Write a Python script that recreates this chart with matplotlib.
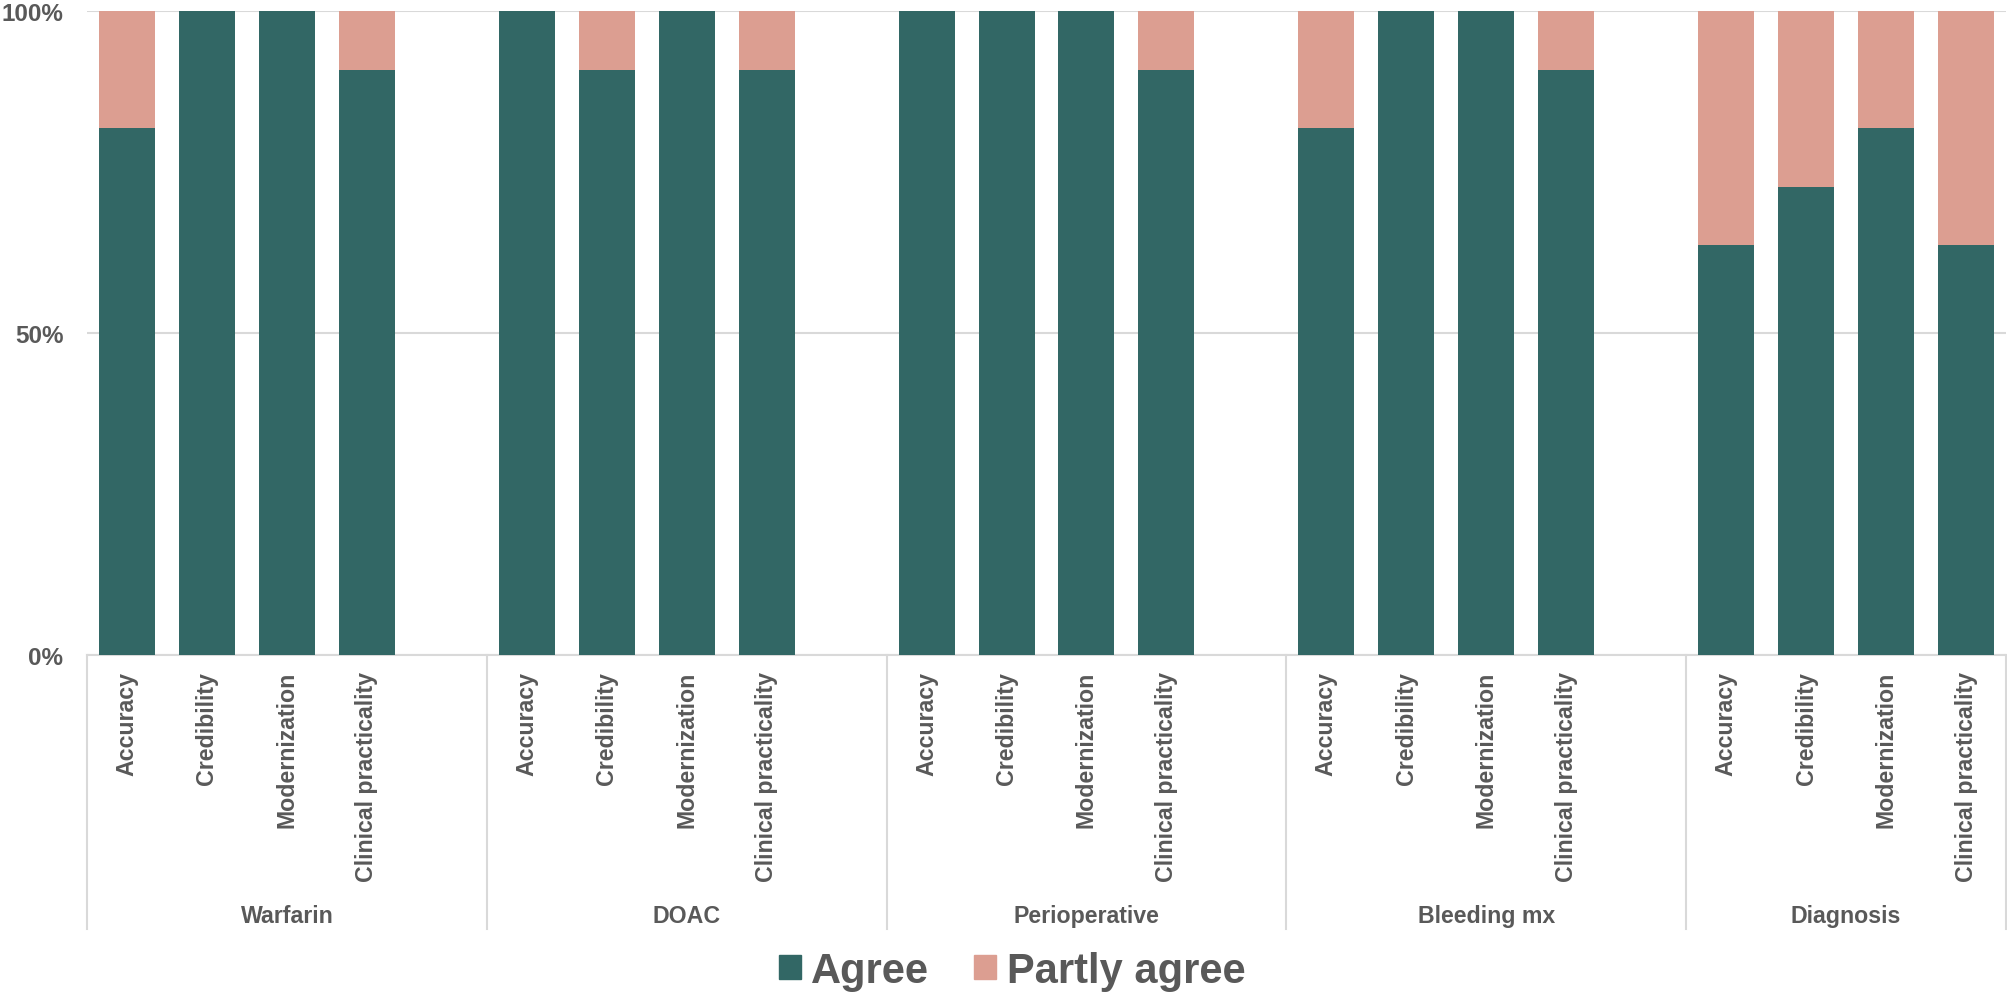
import matplotlib.pyplot as plt
import matplotlib.transforms as mtransforms
from matplotlib.patches import Patch

# data (percent of raters)
groups = ["Warfarin", "DOAC", "Perioperative", "Bleeding mx", "Diagnosis"]
criteria = ["Accuracy", "Credibility", "Modernization", "Clinical practicality"]

agree = [
    [81.8, 100.0, 100.0, 90.9],   # Warfarin
    [100.0, 90.9, 100.0, 90.9],   # DOAC
    [100.0, 100.0, 100.0, 90.9],  # Perioperative
    [81.8, 100.0, 100.0, 90.9],   # Bleeding mx
    [63.6, 72.7, 81.8, 63.6],     # Diagnosis
]
partly_agree = [
    [18.2, 0.0, 0.0, 9.1],
    [0.0, 9.1, 0.0, 9.1],
    [0.0, 0.0, 0.0, 9.1],
    [18.2, 0.0, 0.0, 9.1],
    [36.4, 27.3, 18.2, 36.4],
]

c_agree = "#326765"
c_partly = "#DC9E91"
c_text = "#595959"
c_grid = "#D9D9D9"
font = "Liberation Sans"

plt.rcParams["font.family"] = [font, "DejaVu Sans"]

fig = plt.figure(figsize=(20.08, 9.95), dpi=100)
ax = fig.add_axes([87 / 2008, 1 - 656 / 995, (2006 - 87) / 2008, 644 / 995])

# each group takes 5 slots (4 bars + 1 empty), the last group only 4
slot = len(criteria) + 1
xpos, ag, pa, labels = [], [], [], []
for g in range(len(groups)):
    for c in range(len(criteria)):
        xpos.append(g * slot + c)
        ag.append(agree[g][c])
        pa.append(partly_agree[g][c])
        labels.append(criteria[c])

ax.bar(xpos, ag, width=0.7, color=c_agree, zorder=3)
ax.bar(xpos, pa, width=0.7, bottom=ag, color=c_partly, zorder=3)

x_end = (len(groups) - 1) * slot + len(criteria) - 0.5
ax.set_xlim(-0.5, x_end)
ax.set_ylim(0, 100)

ax.set_yticks([0, 50, 100])
ax.set_yticklabels(["0%", "50%", "100%"])
ax.yaxis.grid(True, color=c_grid, linewidth=1.5, zorder=0)
ax.tick_params(axis="y", length=0, pad=17, labelsize=17.5, labelcolor=c_text)
for t in ax.get_yticklabels():
    t.set_fontweight("bold")

ax.set_xticks(xpos)
ax.set_xticklabels(labels, rotation=90, va="top", ha="center",
                   fontsize=16.7, fontweight="bold", color=c_text)
ax.tick_params(axis="x", length=0, pad=11.5)

for s in ["left", "right", "top"]:
    ax.spines[s].set_visible(False)
ax.spines["bottom"].set_color(c_grid)
ax.spines["bottom"].set_linewidth(1.5)

# group separators and group labels below the axis
trans = mtransforms.blended_transform_factory(ax.transData, ax.transAxes)
edges = [g * slot - 0.5 for g in range(len(groups))] + [x_end]
for xe in edges:
    ax.plot([xe, xe], [0, -0.4255], transform=trans, color=c_grid,
            linewidth=1.5, clip_on=False)
for g, name in enumerate(groups):
    lo = edges[g]
    hi = edges[g + 1]
    ax.text((lo + hi) / 2, -0.404, name, transform=trans, ha="center",
            va="center", fontsize=16.7, fontweight="bold", color=c_text)

handles = [Patch(color=c_agree, label="Agree"),
           Patch(color=c_partly, label="Partly agree")]
leg = fig.legend(handles=handles, loc="center", bbox_to_anchor=(0.504, 1 - 972 / 995),
                 ncol=2, frameon=False, handlelength=0.52, handleheight=0.52,
                 handletextpad=0.26, columnspacing=1.07, borderpad=0,
                 prop={"family": font, "weight": "bold", "size": 30})
for t in leg.get_texts():
    t.set_color(c_text)

fig.savefig("out.png", dpi=100)
